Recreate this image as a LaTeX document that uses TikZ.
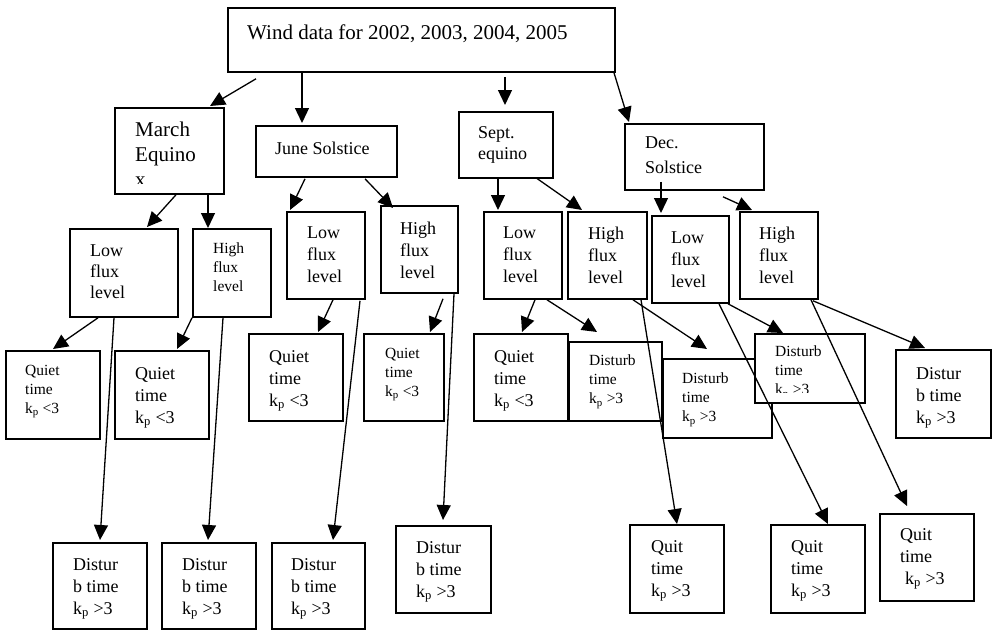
\documentclass[tikz,border=0pt]{standalone}
\usepackage{fontspec}
\setmainfont{Liberation Serif}
\usetikzlibrary{arrows.meta}

\begin{document}
\begin{tikzpicture}[
    x=1pt, y=-1pt,
    box/.style={draw, line width=1.8pt, fill=white, anchor=north west,
                inner sep=0pt},
    txt/.style={anchor=north west, inner sep=0pt, align=left,
                font=\fontsize{18}{22}\selectfont},
    small/.style={txt, font=\fontsize{15.5}{19}\selectfont},
    large/.style={txt, font=\fontsize{21}{25}\selectfont},
    arr/.style={-{Triangle[length=15pt, width=14pt]}, line width=1.3pt}
  ]
  \useasboundingbox (0,0) rectangle (993,629);

  % top box and seasons
  \node[box, minimum width=387, minimum height=64] (wind) at (227,7) {};
  \node[large] (wind-t) at ([shift={(20,18)}]wind.north west)
    {Wind data for 2002, 2003, 2004, 2005};

  \node[box, minimum width=109, minimum height=86] (march) at (114,107) {};
  \begin{scope}
    \clip (march.north west) rectangle ([yshift=11pt]march.south east);
    \node[large] (march-t) at ([shift={(21,15)}]march.north west)
      {March\\Equino\\x};
  \end{scope}
  \node[box, minimum width=141, minimum height=51] (june) at (255,125) {};
  \node[txt] (june-t) at ([shift={(20,17)}]june.north west) {June Solstice};
  \node[box, minimum width=94, minimum height=66] (sept) at (458,111) {};
  \node[txt, font=\fontsize{18}{21}\selectfont] (sept-t)
    at ([shift={(20,15)}]sept.north west) {Sept.\\equino};
  \node[box, minimum width=139, minimum height=66] (dec) at (624,123) {};
  \node[txt, font=\fontsize{18}{25}\selectfont] (dec-t)
    at ([shift={(21,14)}]dec.north west) {Dec.\\Solstice};

  % flux levels
  \node[box, minimum width=108, minimum height=88] (mlow) at (69,228) {};
  \node[txt, font=\fontsize{18}{21}\selectfont] (mlow-t)
    at ([shift={(21,17)}]mlow.north west) {Low\\flux\\level};
  \node[box, minimum width=78, minimum height=88] (mhigh) at (192,228) {};
  \node[small] (mhigh-t) at ([shift={(21,15)}]mhigh.north west) {High\\flux\\level};
  \node[box, minimum width=78, minimum height=87] (jlow) at (286,211) {};
  \node[txt] (jlow-t) at ([shift={(21,16)}]jlow.north west) {Low\\flux\\level};
  \node[box, minimum width=77, minimum height=87] (jhigh) at (380,205) {};
  \node[txt] (jhigh-t) at ([shift={(20,17)}]jhigh.north west) {High\\flux\\level};
  \node[box, minimum width=78, minimum height=87] (slow) at (483,211) {};
  \node[txt] (slow-t) at ([shift={(20,16)}]slow.north west) {Low\\flux\\level};
  \node[box, minimum width=79, minimum height=87] (shigh) at (567,211) {};
  \node[txt] (shigh-t) at ([shift={(21,16)}]shigh.north west) {High\\flux\\level};
  \node[box, minimum width=77, minimum height=87] (dlow) at (651,215) {};
  \node[txt] (dlow-t) at ([shift={(20,17)}]dlow.north west) {Low\\flux\\level};
  \node[box, minimum width=78, minimum height=87] (dhigh) at (739,211) {};
  \node[txt] (dhigh-t) at ([shift={(20,16)}]dhigh.north west) {High\\flux\\level};

  % middle row
  \node[box, minimum width=94, minimum height=88] (q1) at (5,350) {};
  \node[small] (q1-t) at ([shift={(20,15)}]q1.north west)
    {Quiet\\time\\k\textsubscript{p} <3};
  \node[box, minimum width=94, minimum height=88] (q2) at (114,350) {};
  \node[txt] (q2-t) at ([shift={(21,17)}]q2.north west)
    {Quiet\\time\\k\textsubscript{p} <3};
  \node[box, minimum width=94, minimum height=87] (q3) at (248,333) {};
  \node[txt] (q3-t) at ([shift={(21,17)}]q3.north west)
    {Quiet\\time\\k\textsubscript{p} <3};
  \node[box, minimum width=80, minimum height=87] (q4) at (363,333) {};
  \node[small] (q4-t) at ([shift={(22,15)}]q4.north west)
    {Quiet\\time\\k\textsubscript{p} <3};
  \node[box, minimum width=94, minimum height=87] (q5) at (473,333) {};
  \node[txt] (q5-t) at ([shift={(21,17)}]q5.north west)
    {Quiet\\time\\k\textsubscript{p} <3};
  \node[box, minimum width=93, minimum height=79] (d1) at (568,341) {};
  \node[small] (d1-t) at ([shift={(21,14)}]d1.north west)
    {Disturb\\time\\k\textsubscript{p} >3};
  \node[box, minimum width=109, minimum height=79] (d2) at (662,358) {};
  \node[small] (d2-t) at ([shift={(20,15)}]d2.north west)
    {Disturb\\time\\k\textsubscript{p} >3};
  \node[box, minimum width=110, minimum height=69] (d3) at (754,333) {};
  \begin{scope}
    \clip (d3.north west) rectangle ([yshift=11pt]d3.south east);
    \node[small] (d3-t) at ([shift={(21,13)}]d3.north west)
      {Disturb\\time\\k\textsubscript{p} >3};
  \end{scope}
  \node[box, minimum width=95, minimum height=88] (d4) at (895,349) {};
  \node[txt] (d4-t) at ([shift={(21,18)}]d4.north west)
    {Distur\\b time\\k\textsubscript{p} >3};

  % bottom row
  \node[box, minimum width=94, minimum height=86] (b1) at (52,542) {};
  \node[txt] (b1-t) at ([shift={(21,16)}]b1.north west)
    {Distur\\b time\\k\textsubscript{p} >3};
  \node[box, minimum width=94, minimum height=86] (b2) at (161,542) {};
  \node[txt] (b2-t) at ([shift={(21,16)}]b2.north west)
    {Distur\\b time\\k\textsubscript{p} >3};
  \node[box, minimum width=93, minimum height=86] (b3) at (271,542) {};
  \node[txt] (b3-t) at ([shift={(20,16)}]b3.north west)
    {Distur\\b time\\k\textsubscript{p} >3};
  \node[box, minimum width=95, minimum height=87] (b4) at (395,525) {};
  \node[txt] (b4-t) at ([shift={(21,16)}]b4.north west)
    {Distur\\b time\\k\textsubscript{p} >3};
  \node[box, minimum width=94, minimum height=88] (b5) at (629,524) {};
  \node[txt] (b5-t) at ([shift={(22,16)}]b5.north west)
    {Quit\\time\\k\textsubscript{p} >3};
  \node[box, minimum width=94, minimum height=88] (b6) at (770,524) {};
  \node[txt] (b6-t) at ([shift={(21,16)}]b6.north west)
    {Quit\\time\\k\textsubscript{p} >3};
  \node[box, minimum width=94, minimum height=87] (b7) at (879,513) {};
  \node[txt] (b7-t) at ([shift={(21,15)}]b7.north west)
    {Quit\\time\\\hspace*{5pt}k\textsubscript{p} >3};

  % connectors: source/start offset/target/tip offset
  \foreach \a/\sx/\sy/\b/\tx/\ty in {
      wind/29/6/march/96/-1, wind/75/0/june/47/-2,
      wind/278/4/sept/47/-6, wind/387/0/dec/5/-1,
      march/62/0/mlow/78/-1, march/94/0/mhigh/16/0,
      june/50/1/jlow/4/-1, june/110/1/jhigh/13/3,
      sept/40/0/slow/15/-1, sept/78/-1/shigh/15/-1,
      dec/37/-9/dlow/10/-2, dec/99/6/dhigh/13/-1,
      mlow/29/0/q1/48/-1, mhigh/0/0/q2/63/-1,
      jlow/47/0/q3/70/-1, jhigh/63/5/q4/67/-1,
      slow/52/0/q5/49/-1, slow/64/0/d1/29/-9,
      shigh/66/0/d2/45/-9, dlow/77/0/d3/29/0,
      dhigh/74/1/d4/30/-1,
      mlow/45/0/b1/48/-2, mhigh/31/0/b2/47/-2,
      jlow/74/1/b3/62/-2, jhigh/74/0/b4/48/-5,
      shigh/74/0/b5/48/0, dlow/68/0/b6/58/0,
      dhigh/72/0/b7/28/-7}
    \draw[arr] ([shift={(\sx,\sy)}]\a.south west)
      -- ([shift={(\tx,\ty)}]\b.north west);

\end{tikzpicture}
\end{document}
